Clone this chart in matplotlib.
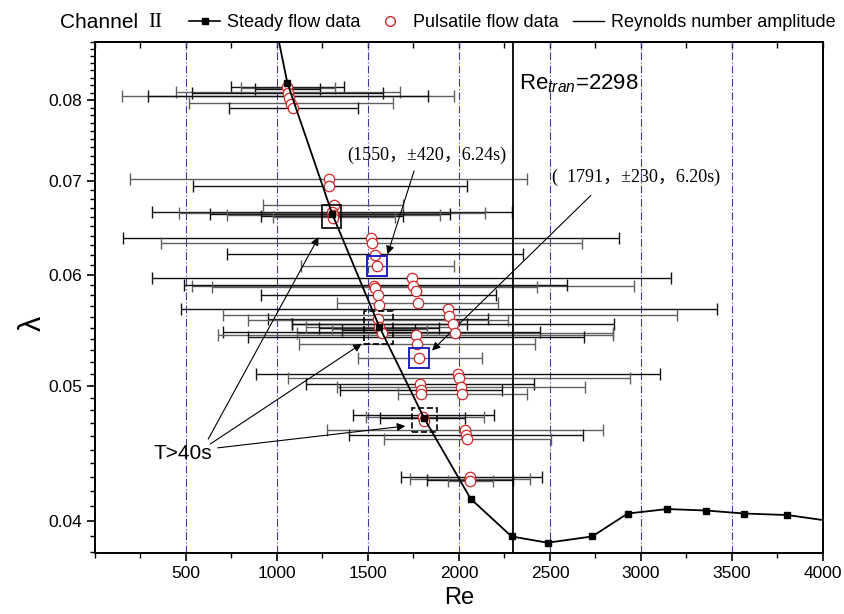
import matplotlib
matplotlib.use("Agg")
import matplotlib.pyplot as plt
from matplotlib.lines import Line2D
from matplotlib.patches import Rectangle
from matplotlib.ticker import FixedLocator, FixedFormatter, MultipleLocator, NullFormatter

plt.rcParams['font.family'] = ['Liberation Sans', 'DejaVu Sans']
plt.rcParams['mathtext.fontset'] = 'custom'
plt.rcParams['mathtext.rm'] = 'Liberation Sans'
plt.rcParams['mathtext.it'] = 'Liberation Sans:italic'

# steady flow friction factor
steady_re = [1000, 1057, 1304, 1562, 1808, 2064, 2289, 2487, 2732, 2927, 3145, 3359, 3568, 3804, 4100]
steady_lam = [0.0895, 0.0823, 0.0663, 0.0551, 0.0474, 0.0415, 0.0390, 0.0386, 0.0390,
              0.0405, 0.0408, 0.0407, 0.0405, 0.0404, 0.0399]

# pulsatile flow points (mean Re, lambda)
puls_re = [1057, 1062, 1068, 1075, 1090,
           1287, 1287, 1313, 1300, 1306, 1310,
           1516, 1520, 1538, 1551,
           1740, 1750, 1762, 1773,
           1533, 1536, 1557, 1562, 1557, 1562, 1575,
           1941, 1945, 1969, 1978,
           1762, 1767, 1782,
           1996, 2000, 2011, 2018,
           1786, 1790, 1792,
           1804, 1810,
           2033, 2038, 2046,
           2060, 2062]
puls_lam = [0.0818, 0.0810, 0.0803, 0.0795, 0.0790,
            0.0703, 0.0695, 0.0673, 0.0665, 0.0662, 0.0659,
            0.0638, 0.0632, 0.0620, 0.0609,
            0.0597, 0.0589, 0.0584, 0.0573,
            0.0589, 0.0587, 0.0580, 0.0571, 0.0558, 0.0551, 0.0545,
            0.0567, 0.0561, 0.0553, 0.0545,
            0.0543, 0.0535, 0.0523,
            0.0510, 0.0506, 0.0499, 0.0493,
            0.0501, 0.0496, 0.0493,
            0.0475, 0.0472,
            0.0465, 0.0461, 0.0458,
            0.0430, 0.0427]

# Reynolds number amplitude bars (centre Re, lambda, half width)
amp_re = [1060, 1060, 1058, 1060, 1060, 1060, 1060, 1075, 1090,
          1285, 1291, 1310,
          1302, 1302, 1291, 1310, 1302, 1313,
          1516, 1519, 1538, 1550,
          1740, 1749, 1542, 1534, 1557, 1773,
          1945, 1949, 1557, 1557, 1969, 1978, 1575,
          1761, 1763, 1770,
          1562, 1562, 1560, 1565, 1560,
          1786,
          1995, 2000, 1786, 2011, 1790, 2018,
          1805, 1814, 1800,
          2033, 2038, 2046,
          2067, 2060, 2060, 2065]
amp_lam = [0.0818, 0.0816, 0.0815, 0.0811, 0.0810, 0.0806, 0.0805, 0.0796, 0.0790,
           0.0703, 0.0695, 0.0673,
           0.0665, 0.0664, 0.0663, 0.0662, 0.0661, 0.0660,
           0.0638, 0.0632, 0.0621, 0.0609,
           0.0597, 0.0589, 0.0590, 0.0588, 0.0580, 0.0573,
           0.0567, 0.0562, 0.0558, 0.0557, 0.0553, 0.0545, 0.0546,
           0.0543, 0.0542, 0.0535,
           0.0553, 0.0551, 0.0550, 0.0549, 0.0548,
           0.0523,
           0.0510, 0.0506, 0.0501, 0.0499, 0.0496, 0.0493,
           0.0476, 0.0475, 0.0474,
           0.0465, 0.0461, 0.0458,
           0.0430, 0.0429, 0.0428, 0.0427]
amp_half = [310, 259, 178, 617, 525, 910, 770, 560, 353,
            1090, 753, 385,
            989, 840, 660, 585, 390, 335,
            1364, 1158, 815, 420,
            1425, 1214, 1053, 893, 646, 443,
            1474, 1247, 604, 714, 884, 870, 870,
            1087, 924, 648,
            480, 400, 330, 260, 200,
            339,
            1110, 940, 626, 681, 445, 354,
            386, 325, 234,
            757, 642, 459,
            387, 330, 238, 124]

re_tran = 2298
y_ticks = [0.04, 0.05, 0.06, 0.07, 0.08]
x_ticks = [500, 1000, 1500, 2000, 2500, 3000, 3500, 4000]

fig = plt.figure(figsize=(8.45, 6.14), dpi=100)
ax = fig.add_axes([0.1124, 0.0993, 0.8615, 0.832])
ax.set_yscale('log')
ax.set_xlim(0, 4000)
ax.set_ylim(0.03795, 0.088)

# blue dash-dot verticals at major x ticks
for x in x_ticks[:-1]:
    ax.axvline(x, color='#3a3aa8', lw=0.8, ls=(0, (7, 2, 1, 2)), zorder=1)

# amplitude bars, alternating black / grey
for i in range(len(amp_re)):
    c = '#111111' if i % 2 == 0 else '#606060'
    ax.errorbar(amp_re[i], amp_lam[i], xerr=amp_half[i], fmt='none', ecolor=c,
                elinewidth=1.0, capsize=4, capthick=1.0, zorder=2)

ax.axvline(re_tran, color='k', lw=1.3, zorder=3)

ax.plot(steady_re, steady_lam, color='k', lw=1.3, marker='s', ms=4.5, zorder=5)
ax.plot(puls_re, puls_lam, ls='none', marker='o', ms=7.5, mfc='white',
        mec='#d02828', mew=0.9, zorder=4)

# highlighted points
ax.plot([1551, 1782], [0.0609, 0.0523], ls='none', marker='s', ms=14, mfc='none',
        mec='#2020c0', mew=1.4, zorder=6)
ax.add_patch(Rectangle((1250, 0.0648), 104, 0.0025, fill=False, ec='k', lw=1.2, zorder=6))
ax.add_patch(Rectangle((1478, 0.0535), 161, 0.0030, fill=False, ec='k', lw=1.2, ls='--', zorder=6))
ax.add_patch(Rectangle((1740, 0.0463), 137, 0.0019, fill=False, ec='k', lw=1.2, ls='--', zorder=6))

arrow = dict(arrowstyle='-|>', color='k', lw=0.8, mutation_scale=12)
ax.text(484, 0.0447, 'T>40s', fontsize=15, ha='center', va='center')
ax.annotate('', xy=(1236, 0.0641), xytext=(615, 0.0456), arrowprops=arrow)
ax.annotate('', xy=(1478, 0.0537), xytext=(621, 0.0453), arrowprops=arrow)
ax.annotate('', xy=(1720, 0.0468), xytext=(659, 0.0451), arrowprops=arrow)

serif = ['Liberation Serif', 'Noto Sans CJK SC']
ax.text(1385, 0.0731, '(1550，±420，6.24s)', fontsize=13, family=serif, va='center')
ax.annotate('', xy=(1603, 0.0618), xytext=(1758, 0.0715), arrowprops=arrow)
ax.text(2511, 0.0705, '(  1791，±230，6.20s)', fontsize=13, family=serif, va='center')
ax.annotate('', xy=(1841, 0.0528), xytext=(2736, 0.0686), arrowprops=arrow)

ax.text(2330, 0.0822, r'Re$_{tran}$=2298', fontsize=16, va='center')

# axes styling
ax.yaxis.set_major_locator(FixedLocator(y_ticks))
ax.yaxis.set_major_formatter(FixedFormatter([f'{v:.2f}' for v in y_ticks]))
ax.yaxis.set_minor_locator(MultipleLocator(0.001))
ax.yaxis.set_minor_formatter(NullFormatter())
ax.set_xticks(x_ticks)
ax.xaxis.set_minor_locator(MultipleLocator(250))
ax.tick_params(axis='both', which='major', direction='out', length=6, width=1.2, labelsize=12.5)
ax.tick_params(axis='both', which='minor', direction='out', length=3.5, width=1.0)
top = ax.secondary_xaxis('top')
top.set_xticks(x_ticks)
top.xaxis.set_minor_locator(MultipleLocator(250))
top.tick_params(which='both', direction='in', length=4, width=1.0, labeltop=False)
for s in ax.spines.values():
    s.set_linewidth(1.4)
top.spines['top'].set_linewidth(1.4)

ax.set_xlabel('Re', fontsize=17, labelpad=4)
ax.set_ylabel('λ', fontsize=22)
ax.yaxis.set_label_coords(-0.065, 0.45)

# legend above the frame
fig.text(0.071, 0.963, 'Channel', fontsize=15, va='center')
fig.text(0.176, 0.963, 'II', fontsize=15, va='center', family='Liberation Serif')
handles = [Line2D([], [], color='k', marker='s', ms=4, lw=1.2),
           Line2D([], [], ls='none', marker='o', ms=7, mfc='white', mec='#d02828'),
           Line2D([], [], color='k', lw=1.0)]
fig.legend(handles, ['Steady flow data', 'Pulsatile flow data', 'Reynolds number amplitude'],
           loc='center left', bbox_to_anchor=(0.224, 0.963), ncol=3, frameon=False,
           fontsize=13, handlelength=1.7, handletextpad=0.4, columnspacing=0.8,
           borderaxespad=0, borderpad=0)

fig.savefig('out.png', dpi=100)
